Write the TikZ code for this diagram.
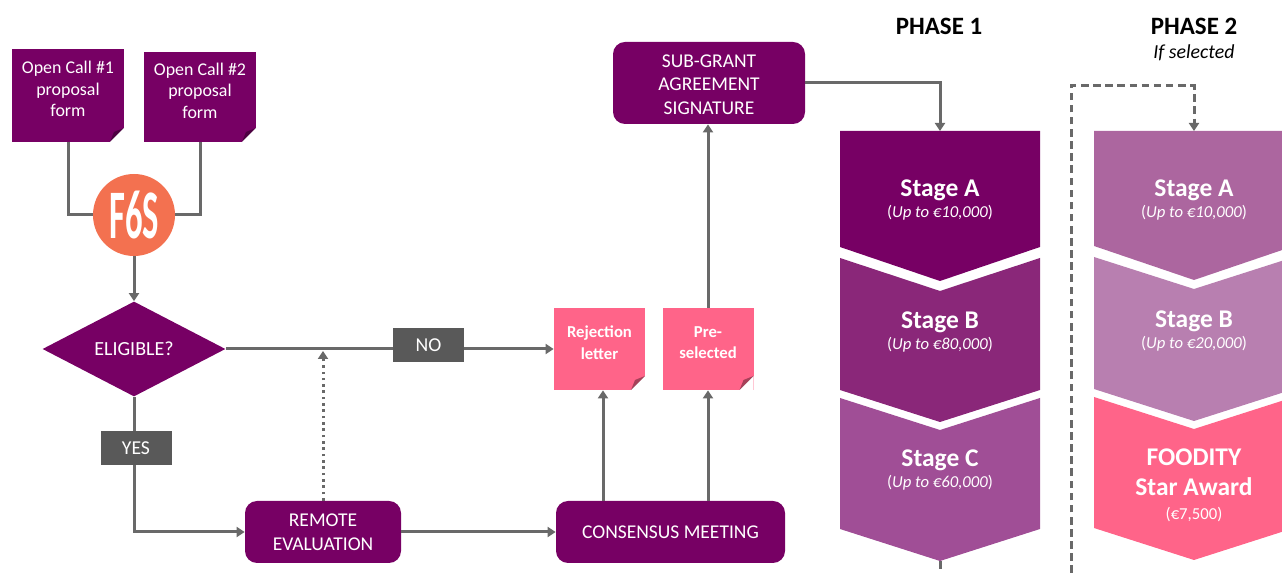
\documentclass[tikz,border=0pt]{standalone}
\usepackage{fontspec}
\setmainfont{Carlito}
\usetikzlibrary{arrows.meta}
\usetikzlibrary{shapes.geometric}
\definecolor{purpleA}{HTML}{770064}
\definecolor{purpleB}{HTML}{8A2779}
\definecolor{purpleC}{HTML}{A04E96}
\definecolor{purpleD}{HTML}{AC669F}
\definecolor{purpleE}{HTML}{B87FB0}
\definecolor{pinkbox}{HTML}{FF6489}
\definecolor{orangebox}{HTML}{F37150}
\definecolor{greybox}{HTML}{595959}
\definecolor{greyline}{HTML}{696969}
\def\px{.02cm}
\newcommand{\headtext}[1]{{\fontsize{14.5}{17}\selectfont\bfseries #1}}
\newcommand{\subtext}[1]{{\fontsize{9.5}{10}\selectfont #1}}
\newcommand{\stagetext}[2]{\headtext{#1}\\[0pt]\subtext{(\textit{#2})}}
\tikzset{
 conn/.style={greyline, line width=3*\px, >={Triangle[length=8*\px, width=10*\px]}},
 dashline/.style={conn, dash pattern=on 4.3pt off 2.6pt},
 dotline/.style={conn, dash pattern=on 1.5pt off 2.1pt},
 notebox/.style={fill=#1, text=white, inner sep=0, align=center, path picture={
  \fill[white] ([xshift=-14*\px]path picture bounding box.south east) -- (path picture bounding box.south east) -- ([yshift=14*\px]path picture bounding box.south east) -- cycle;
  \fill[black, opacity=.35] ([xshift=-14*\px]path picture bounding box.south east) -- ([yshift=14*\px]path picture bounding box.south east) -- ([xshift=-10*\px, yshift=10*\px]path picture bounding box.south east) -- cycle;
 }},
 callbox/.style={notebox=purpleA, minimum width=112*\px, font=\fontsize{10.2}{12.2}\selectfont},
 letterbox/.style={notebox=pinkbox, minimum width=91*\px, minimum height=82*\px, font=\fontsize{9.5}{12.4}\selectfont\bfseries},
 roundbox/.style={fill=purpleA, text=white, rounded corners=12*\px, inner sep=0, align=center, font=\fontsize{11.1}{13.4}\selectfont},
 tagbox/.style={fill=greybox, text=white, minimum width=71*\px, minimum height=34*\px, inner sep=0, font=\fontsize{11.2}{12}\selectfont},
 stagebox/.style={text=white, inner sep=0, align=center},
}
\begin{document}
\begin{tikzpicture}[x=.02cm, y=-.02cm]
\useasboundingbox (0,0) rectangle (1282,573);
\clip (0,0) rectangle (1282,573);
\foreach \x/\top/\notch/\low/\tip/\col in {
 940/131/131/247/281/purpleA, 940/258/291/390/422/purpleB, 940/398/430/529/561/purpleC,
 1194/131/131/246/280/purpleD, 1194/257/289/389/421/purpleE, 1194/397/429/528/560/pinkbox} {
 \fill[\col] (\x-100,\top) -- (\x,\notch) -- (\x+100,\top) -- (\x+100,\low) -- (\x,\tip) -- (\x-100,\low) -- cycle;
}
\node[font=\fontsize{14.2}{16}\selectfont\bfseries] (phaseone) at (939,26) {PHASE 1};
\node[font=\fontsize{14.2}{16}\selectfont\bfseries] (phasetwo) at (1194,26) {PHASE 2};
\node[font=\fontsize{11.3}{13}\selectfont\itshape] (selected) at (1194,53) {If selected};
\node[stagebox] (stageA) at (940,200) {\stagetext{Stage A}{Up to €10,000}};
\node[stagebox] (stageB) at (940,332) {\stagetext{Stage B}{Up to €80,000}};
\node[stagebox] (stageC) at (940,470) {\stagetext{Stage C}{Up to €60,000}};
\node[stagebox] (awardA) at (1194,200) {\stagetext{Stage A}{Up to €10,000}};
\node[stagebox] (awardB) at (1194,331) {\stagetext{Stage B}{Up to €20,000}};
\node[stagebox] (award) at (1194,485.5) {\headtext{FOODITY}\\[5pt]\headtext{Star Award}\\[2pt]\subtext{(€7,500)}};
\coordinate (topone) at (940,131);
\coordinate (toptwo) at (1194,131);
\coordinate (tipone) at (940,561);
\coordinate (endone) at (940,573);
\coordinate (endtwo) at (1071,573);
\coordinate (turntwo) at (1071,86);

\node[callbox, minimum height=93*\px] (callone) at (68,95.5) {Open Call \#1\\proposal\\form\\[-4.8pt]};
\node[callbox, minimum height=90*\px] (calltwo) at (200,97) {Open Call \#2\\proposal\\form\\[-4.8pt]};
\node[circle, fill=orangebox, minimum size=82*\px, inner sep=0, text=white] (fsix) at (134,215) {\fontsize{24}{24}\selectfont\bfseries\scalebox{.82}[1.65]{F6S}};
\node[diamond, fill=purpleA, text=white, minimum width=183*\px, minimum height=95*\px, inner sep=0, font=\fontsize{11.4}{13}\selectfont] (eligible) at (134,349) {ELIGIBLE?};
\node[roundbox, minimum width=156*\px, minimum height=62*\px] (remote) at (323,532) {REMOTE\\EVALUATION};
\node[roundbox, minimum width=229*\px, minimum height=62*\px] (consensus) at (670.5,532) {CONSENSUS MEETING};
\node[letterbox] (rejection) at (599.5,349) {Rejection\\letter\\[-5pt]};
\node[letterbox] (preselected) at (708,349) {Pre-\\selected\\[-5pt]};
\node[roundbox, minimum width=192*\px, minimum height=82*\px] (subgrant) at (709,83) {\mbox{}\\[-4.3pt]SUB-GRANT\\AGREEMENT\\SIGNATURE};
\coordinate (dotend) at (remote.north |- eligible);

\draw[conn] (callone.south) |- (fsix.west);
\draw[conn] (calltwo.south) |- (fsix.east);
\draw[conn, ->] (fsix.south) -- (eligible.north);
\draw[conn, ->] (eligible.east) -- (rejection.west);
\draw[conn, ->] (eligible.south) |- (remote.west);
\draw[dotline, ->] (remote.north) -- ([yshift=-2*\px]dotend);
\draw[conn, ->] (remote.east) -- (consensus.west);
\draw[conn, ->] ([xshift=3.5*\px]rejection.south |- consensus.north) -- ([xshift=3.5*\px]rejection.south);
\draw[conn, ->] (preselected.south |- consensus.north) -- (preselected.south);
\draw[conn, ->] (preselected.north) -- (preselected.north |- subgrant.south);
\draw[conn, ->] (subgrant.east) -| (topone);
\draw[dashline] (tipone) -- (endone);
\draw[dashline, ->] (endtwo) -- (turntwo) -| (toptwo);
\node[tagbox] (notag) at (428.5,345) {NO};
\node[tagbox] (yestag) at (136,448) {YES};
\end{tikzpicture}
\end{document}
